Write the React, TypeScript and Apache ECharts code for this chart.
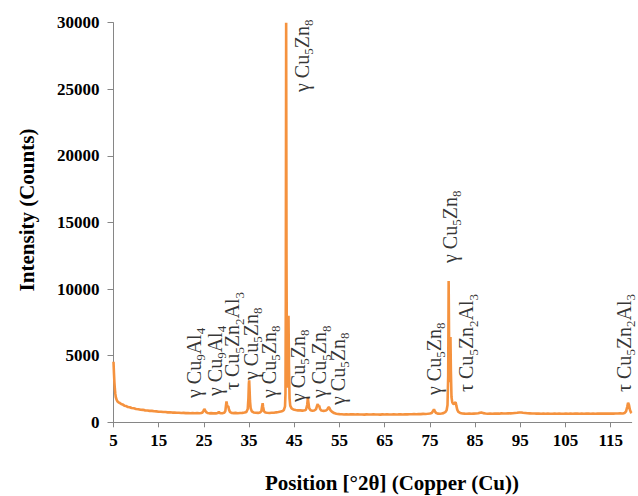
import { useEffect, useRef } from "react";
import * as echarts from "echarts";

// XRD scan: [2θ (deg), intensity (counts)]
const scan: [number, number][] = [
  [5.0, 4550], [5.1, 3700], [5.2, 3000], [5.3, 2500], [5.4, 2150], [5.5, 1900],
  [5.7, 1680], [5.9, 1560], [6.1, 1500], [6.4, 1450], [6.7, 1370], [7.0, 1340],
  [7.4, 1250], [7.8, 1220], [8.2, 1150], [8.6, 1130], [9.0, 1070], [9.5, 1050],
  [10.0, 1000], [10.5, 985], [11.0, 940], [11.5, 935], [12.0, 895], [12.5, 888],
  [13.0, 860], [13.5, 858], [14.0, 826], [14.5, 822], [15.0, 795], [15.5, 796],
  [16.0, 770], [16.5, 772], [17.0, 745], [17.5, 752], [18.0, 730], [18.5, 735],
  [19.0, 715], [19.5, 722], [20.0, 700], [20.5, 708], [21.0, 692], [21.5, 700],
  [22.0, 684], [22.5, 694], [23.0, 676], [23.5, 688], [24.0, 676], [24.4, 695],
  [24.7, 740], [24.9, 860], [25.1, 1000], [25.3, 880], [25.5, 760], [25.8, 700],
  [26.2, 672], [26.6, 690], [27.0, 668], [27.4, 684], [27.8, 672], [28.1, 700],
  [28.3, 790], [28.5, 705], [28.8, 676], [29.2, 690], [29.5, 720], [29.75, 850],
  [29.9, 1300], [30.0, 1560], [30.1, 1350], [30.25, 1180], [30.4, 1200], [30.55, 950],
  [30.8, 760], [31.2, 700], [31.6, 688], [32.0, 705], [32.5, 684], [33.0, 700],
  [33.5, 706], [34.0, 730], [34.4, 780], [34.7, 1000], [34.85, 1800], [34.95, 2900],
  [35.02, 3150], [35.1, 2500], [35.2, 1600], [35.35, 1050], [35.6, 820], [36.0, 740],
  [36.5, 712], [37.0, 705], [37.4, 730], [37.7, 820], [37.9, 1250], [38.0, 1430],
  [38.1, 1150], [38.3, 820], [38.6, 730], [39.0, 712], [39.5, 700], [40.0, 716],
  [40.5, 722], [41.0, 748], [41.5, 768], [42.0, 805], [42.4, 850], [42.7, 930],
  [42.95, 1200], [43.05, 2200], [43.12, 9000], [43.2, 30000], [43.28, 12000], [43.38, 3500],
  [43.5, 2600], [43.62, 5200], [43.72, 8000], [43.82, 4200], [43.95, 1800], [44.1, 1250],
  [44.4, 1050], [44.8, 960], [45.3, 925], [45.8, 895], [46.3, 892], [46.8, 875],
  [47.3, 900], [47.6, 960], [47.85, 1300], [48.0, 1820], [48.12, 1500], [48.3, 1050],
  [48.6, 900], [49.0, 868], [49.4, 884], [49.8, 980], [50.0, 1200], [50.2, 1370],
  [50.35, 1200], [50.5, 1250], [50.7, 1000], [51.0, 880], [51.5, 858], [52.0, 882],
  [52.3, 960], [52.55, 1130], [52.75, 1100], [53.0, 900], [53.4, 780], [53.8, 690],
  [54.3, 642], [55.0, 612], [55.5, 600], [56.0, 588], [56.5, 610], [57.0, 585],
  [57.5, 600], [58.0, 592], [58.5, 580], [59.0, 598], [59.5, 585], [60.0, 590],
  [60.5, 578], [61.0, 595], [61.5, 583], [62.0, 590], [62.5, 600], [63.0, 582],
  [63.5, 590], [64.0, 577], [64.5, 592], [65.0, 585], [65.5, 595], [66.0, 580],
  [66.5, 588], [67.0, 598], [67.5, 585], [68.0, 592], [68.5, 600], [69.0, 588],
  [69.5, 605], [70.0, 595], [70.5, 610], [71.0, 600], [71.5, 615], [72.0, 605],
  [72.5, 620], [73.0, 615], [73.5, 630], [74.0, 625], [74.5, 640], [75.0, 660],
  [75.4, 700], [75.7, 850], [75.9, 980], [76.1, 820], [76.4, 690], [76.8, 650],
  [77.2, 640], [77.6, 660], [78.0, 690], [78.4, 760], [78.7, 900], [78.9, 1300],
  [79.05, 3500], [79.15, 10600], [79.25, 6000], [79.35, 3000], [79.45, 4500], [79.55, 6400],
  [79.65, 3800], [79.78, 1900], [79.95, 1500], [80.15, 1400], [80.35, 1380], [80.55, 1470],
  [80.7, 1500], [80.85, 1250], [81.05, 950], [81.3, 780], [81.7, 700], [82.2, 665],
  [82.7, 650], [83.2, 640], [83.7, 655], [84.2, 640], [84.7, 650], [85.2, 660],
  [85.7, 680], [86.1, 720], [86.4, 740], [86.8, 690], [87.3, 660], [87.8, 645],
  [88.3, 655], [88.8, 640], [89.3, 650], [89.8, 660], [90.3, 648], [90.8, 670],
  [91.3, 655], [91.8, 665], [92.3, 675], [92.8, 668], [93.3, 685], [93.8, 700],
  [94.3, 715], [94.8, 735], [95.2, 740], [95.6, 720], [96.1, 700], [96.6, 680],
  [97.1, 668], [97.6, 655], [98.1, 662], [98.6, 648], [99.1, 655], [99.6, 642],
  [100.1, 650], [100.6, 640], [101.1, 652], [101.6, 645], [102.1, 638], [102.6, 650],
  [103.1, 642], [103.6, 655], [104.1, 646], [104.6, 640], [105.1, 652], [105.6, 644],
  [106.1, 650], [106.6, 640], [107.1, 648], [107.6, 655], [108.1, 643], [108.6, 650],
  [109.1, 645], [109.6, 655], [110.1, 648], [110.6, 640], [111.1, 652], [111.6, 646],
  [112.1, 655], [112.6, 648], [113.1, 660], [113.6, 650], [114.1, 656], [114.6, 648],
  [115.1, 660], [115.6, 652], [116.1, 664], [116.6, 656], [117.1, 668], [117.5, 660],
  [117.8, 672], [118.1, 705], [118.4, 820], [118.65, 1150], [118.85, 1470], [119.05, 1300],
  [119.25, 950], [119.45, 760], [119.65, 700],
];

// Phase labels: foot of each rotated label in [2θ, counts]
const labelTheta = [46.7, 22.7, 27.4, 31.3, 35.4, 39.4, 45.8, 50.5, 54.6, 75.8, 79.4, 83.1, 117.9];
const labelCounts = [24800, 1824, 1975, 2425, 3176, 1824, 1524, 1824, 1300, 2050, 11960, 2275, 2275];
const labelPhase = ["γ", "γ", "γ", "τ", "γ", "γ", "γ", "γ", "γ", "γ", "γ", "τ", "τ"];
// formula as [element, subscript] pairs
const CU5ZN8: [string, string][] = [["Cu", "5"], ["Zn", "8"]];
const CU9AL4: [string, string][] = [["Cu", "9"], ["Al", "4"]];
const CU5ZN2AL3: [string, string][] = [["Cu", "5"], ["Zn", "2"], ["Al", "3"]];
const labelFormula = [
  CU5ZN8, CU9AL4, CU9AL4, CU5ZN2AL3, CU5ZN8, CU5ZN8, CU5ZN8,
  CU5ZN8, CU5ZN8, CU5ZN8, CU5ZN8, CU5ZN2AL3, CU5ZN2AL3,
];

const xTicks = [5, 15, 25, 35, 45, 55, 65, 75, 85, 95, 105, 115];

const SERIF = '"Liberation Serif", "Times New Roman", serif';
const LINE = "#F5923E";
const AXIS = "#868686";

function richLabel(i: number): string {
  const parts = labelFormula[i].map(([el, n]) => `{m|${el}}{s|${n}}`).join("");
  return `{m|${labelPhase[i]} }${parts}`;
}

export default function App() {
  const ref = useRef<HTMLDivElement>(null);

  useEffect(() => {
    if (!ref.current) return;
    const chart = echarts.init(ref.current, undefined, { renderer: "svg" });
    const labelData = labelTheta.map((t, i) => ({
      value: [t, labelCounts[i]],
      label: { formatter: richLabel(i) },
    }));

    chart.setOption({
      animation: false,
      backgroundColor: "#fff",
      grid: { left: 113.5, right: 6.3, top: 22.7, bottom: 73.7 },
      xAxis: {
        type: "value",
        min: 5,
        max: 119.65,
        axisLine: { show: true, lineStyle: { color: AXIS, width: 1 } },
        axisTick: { show: true, length: 5, lineStyle: { color: AXIS }, customValues: xTicks },
        axisLabel: {
          customValues: xTicks,
          fontFamily: SERIF,
          fontWeight: "bold",
          fontSize: 17,
          color: "#000",
          margin: 10,
        },
        splitLine: { show: false },
      },
      yAxis: {
        type: "value",
        min: 0,
        max: 30000,
        interval: 5000,
        axisLine: { show: true, lineStyle: { color: AXIS, width: 1 } },
        axisTick: { show: true, length: 6, lineStyle: { color: AXIS } },
        axisLabel: {
          fontFamily: SERIF,
          fontWeight: "bold",
          fontSize: 17,
          color: "#000",
          margin: 14,
          formatter: (v: number) => String(v),
        },
        splitLine: { show: false },
      },
      series: [
        {
          type: "line",
          data: scan,
          showSymbol: false,
          symbol: "none",
          lineStyle: { color: LINE, width: 2.6 },
          z: 2,
        },
        {
          type: "scatter",
          data: labelData,
          symbolSize: 0,
          silent: true,
          z: 3,
          label: {
            show: true,
            position: "inside",
            rotate: 90,
            align: "left",
            verticalAlign: "middle",
            color: "#000",
            rich: {
              m: {
                fontFamily: SERIF,
                fontSize: 20,
                lineHeight: 27,
                color: "#000",
                verticalAlign: "middle",
              },
              s: {
                fontFamily: SERIF,
                fontSize: 13,
                lineHeight: 13,
                color: "#000",
                verticalAlign: "bottom",
              },
            },
          },
        },
      ],
      graphic: [
        {
          type: "text",
          x: 27,
          y: 210,
          rotation: Math.PI / 2,
          style: {
            text: "Intensity (Counts)",
            font: `bold 21px ${SERIF}`,
            fill: "#000",
            align: "center",
            verticalAlign: "middle",
          },
        },
        {
          type: "text",
          x: 392,
          y: 483,
          style: {
            text: "Position [°2θ] (Copper (Cu))",
            font: `bold 21px ${SERIF}`,
            fill: "#000",
            align: "center",
            verticalAlign: "middle",
          },
        },
      ],
    });

    return () => chart.dispose();
  }, []);

  return (
    <div
      ref={ref}
      style={{ position: "fixed", left: 0, top: 0, width: 638, height: 496 }}
    />
  );
}
